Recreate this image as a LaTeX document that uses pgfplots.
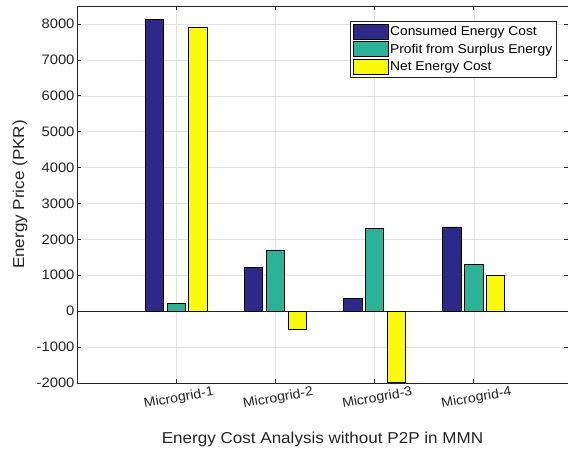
\documentclass[border=0pt]{standalone}
\usepackage{pgfplots}
\pgfplotsset{compat=1.18}
\usepackage{fontspec}
\setmainfont[FakeStretch=1.08]{Liberation Sans}

\definecolor{consumed}{RGB}{46,40,136}
\definecolor{profit}{RGB}{44,178,150}
\definecolor{netcost}{RGB}{250,250,10}
\definecolor{axgray}{RGB}{38,38,38}

\begin{document}
\begin{tikzpicture}
\useasboundingbox (-77pt,-69pt) rectangle (491pt,383pt);
\begin{axis}[
  scale only axis,
  width=491pt, height=377pt,
  xmin=0, xmax=4.95,
  ymin=-2000, ymax=8500,
  xtick={1,2,3,4},
  xticklabels={Microgrid-1,Microgrid-2,Microgrid-3,Microgrid-4},
  ytick={-2000,-1000,0,1000,2000,3000,4000,5000,6000,7000,8000},
  /pgf/number format/assume math mode=true,
  scaled y ticks=false,
  yticklabel style={/pgf/number format/fixed, /pgf/number format/1000 sep={}, font=\fontsize{13.7}{14}\selectfont, text=axgray, xshift=1pt},
  xticklabel style={rotate=10, anchor=north, font=\fontsize{13.1}{14}\selectfont, text=axgray, yshift=-6pt},
  tick align=inside,
  major tick length=4pt,
  tick style={axgray, line width=0.6pt},
  axis line style={axgray, line width=0.6pt},
  grid=major,
  grid style={gray!22, line width=0.5pt},
  extra y ticks={0},
  extra y tick labels={},
  extra y tick style={grid style={axgray, line width=0.8pt}, major tick length=0pt},
  xlabel={Energy Cost Analysis without P2P in MMN},
  ylabel={Energy Price (PKR)},
  xlabel style={font=\fontsize{15.8}{17}\selectfont, text=axgray, at={(rel axis cs:0.5,0)}, anchor=base, yshift=-61pt},
  ylabel style={font=\fontsize{15.8}{17}\selectfont, text=axgray, at={(rel axis cs:0,0.5)}, anchor=south, yshift=46pt},
  bar width=0.187,
  legend style={at={(rel axis cs:1,1)}, anchor=north east, xshift=-11pt, yshift=-15pt,
    font=\fontsize{12.8}{13}\selectfont, draw=axgray, line width=0.6pt,
    inner xsep=3pt, inner ysep=2.5pt, row sep=2pt,
    nodes={inner ysep=2pt, inner xsep=1.5pt}, cells={anchor=west}},
  legend image code/.code={\draw[#1, draw=black, line width=0.6pt] (0pt,-7.5pt) rectangle (35pt,7.5pt);},
]
\addplot[ybar, bar shift=-0.22, fill=consumed, draw=black, line width=0.8pt]
  coordinates {(1,8130) (2,1210) (3,360) (4,2345)};
\addplot[ybar, bar shift=0, fill=profit, draw=black, line width=0.8pt]
  coordinates {(1,220) (2,1705) (3,2305) (4,1300)};
\addplot[ybar, bar shift=0.22, fill=netcost, draw=black, line width=0.8pt]
  coordinates {(1,7910) (2,-500) (3,-1970) (4,1010)};
\legend{Consumed Energy Cost, Profit from Surplus Energy, Net Energy Cost}
\end{axis}
\end{tikzpicture}
\end{document}
